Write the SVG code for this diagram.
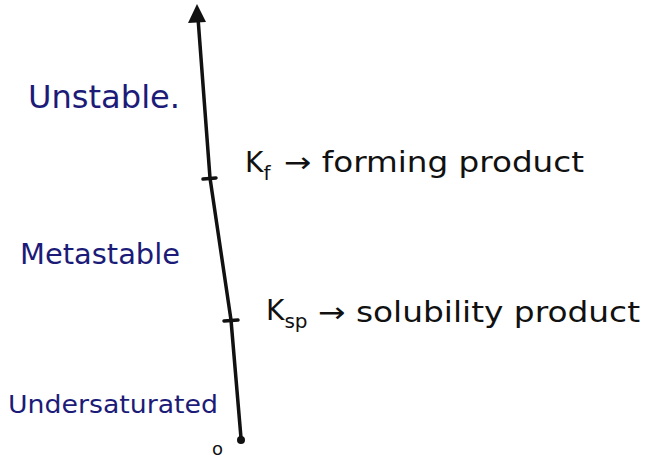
<svg xmlns="http://www.w3.org/2000/svg" width="654" height="458" viewBox="0 0 654 458">
<style>
.blue{fill:#1c1c78;font-family:"DejaVu Sans",sans-serif;}
.blk{fill:#111;font-family:"DejaVu Sans",sans-serif;}
.ax{stroke:#111;stroke-width:3.5;fill:none;stroke-linecap:round;stroke-linejoin:round}
</style>
<rect width="654" height="458" fill="#fff"/>
<g id="connectors">
<polyline class="ax" points="198,18 210,178 231,320 241,438"/>
<polygon points="197,4 188,23 206,22" fill="#111"/>
<line class="ax" x1="203" y1="179" x2="216" y2="178"/>
<line class="ax" x1="224" y1="321" x2="238" y2="320"/>
<circle cx="241" cy="440" r="4" fill="#111"/>
</g>
<g id="origin"><text class="blk" x="212" y="455" font-size="18">o</text></g>
<g id="unstable"><text class="blue" x="28" y="108" font-size="32" textLength="152" lengthAdjust="spacingAndGlyphs">Unstable.</text></g>
<g id="metastable"><text class="blue" x="20" y="264" font-size="28" textLength="160" lengthAdjust="spacingAndGlyphs">Metastable</text></g>
<g id="undersaturated"><text class="blue" x="8" y="413" font-size="24" textLength="210" lengthAdjust="spacingAndGlyphs">Undersaturated</text></g>
<g id="kf"><text class="blk" x="245" y="172" font-size="28">K<tspan font-size="20" dy="8">f</tspan></text><text class="blk" x="284" y="172" font-size="28" textLength="300" lengthAdjust="spacingAndGlyphs">→ forming product</text></g>
<g id="ksp"><text class="blk" x="266" y="320" font-size="28">K<tspan font-size="20" dy="8">sp</tspan></text><text class="blk" x="318" y="322" font-size="28" textLength="322" lengthAdjust="spacingAndGlyphs">→ solubility product</text></g>
</svg>
